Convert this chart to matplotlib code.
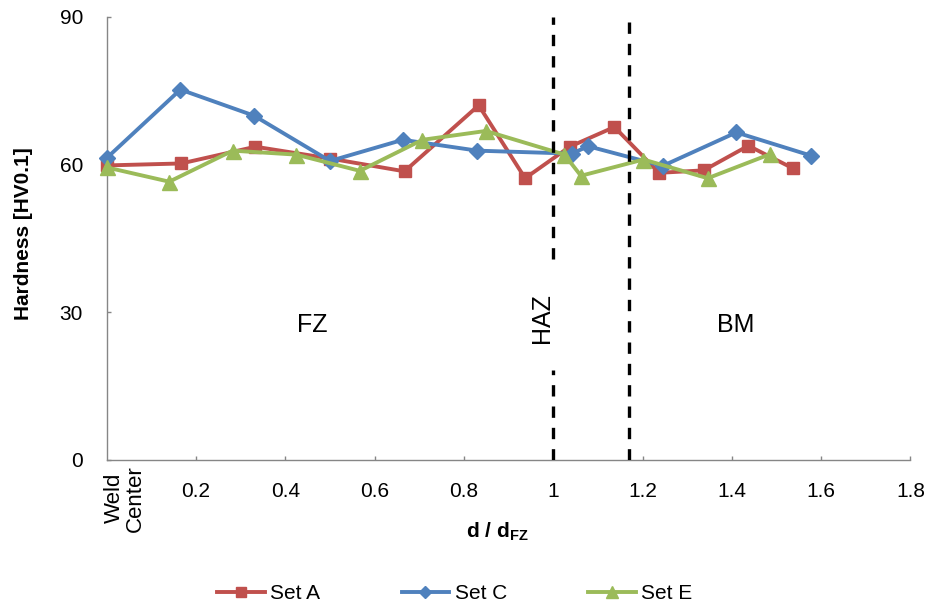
"""
Hardness profile across the weld (Set A / C / E) with zone boundaries.
"""

import matplotlib
matplotlib.use("Agg")
import matplotlib.pyplot as plt

plt.rcParams["font.family"] = ["Liberation Sans", "DejaVu Sans"]
plt.rcParams["mathtext.fontset"] = "custom"
plt.rcParams["mathtext.rm"] = "Liberation Sans"
plt.rcParams["mathtext.bf"] = "Liberation Sans:bold"

# --- Data ---
set_a_x = [0, 0.167, 0.333, 0.5, 0.667, 0.833, 0.937, 1.037, 1.137, 1.237, 1.337, 1.437, 1.537]
set_a_y = [59.8, 60.2, 63.6, 61.2, 58.6, 72.0, 57.2, 63.6, 67.6, 58.3, 58.8, 63.8, 59.2]

set_c_x = [0, 0.165, 0.33, 0.5, 0.663, 0.83, 1.042, 1.078, 1.245, 1.41, 1.577]
set_c_y = [61.3, 75.2, 69.9, 60.7, 65.0, 62.8, 62.2, 63.7, 59.7, 66.5, 61.8]

set_e_x = [0, 0.14, 0.282, 0.424, 0.567, 0.707, 0.849, 1.025, 1.062, 1.202, 1.346, 1.486]
set_e_y = [59.4, 56.5, 62.8, 62.0, 58.7, 65.0, 66.8, 62.0, 57.7, 61.0, 57.2, 62.1]

zone_bounds = [1.0, 1.17]       # FZ|HAZ and HAZ|BM
haz_gap = (18.3, 40.8)          # dashed line broken around the HAZ label
zone_labels = ["FZ", "HAZ", "BM"]
zone_label_x = [0.46, 0.975, 1.408]
zone_label_y = [27.4, 28.8, 27.4]

xticks = [0.2, 0.4, 0.6, 0.8, 1.0, 1.2, 1.4, 1.6, 1.8]
xtick_labels = ["0.2", "0.4", "0.6", "0.8", "1", "1.2", "1.4", "1.6", "1.8"]
yticks = [0, 30, 60, 90]

RED = "#C0504D"
BLUE = "#4F81BD"
GREEN = "#9BBB59"
AXIS_GREY = "#868686"

fig = plt.figure(figsize=(9.32, 6.13), dpi=100)
ax = fig.add_axes([0.1145, 0.2496, 0.8624, 0.7232])

ax.plot(set_a_x, set_a_y, color=RED, lw=2.8, marker="s", ms=8.8,
        mec=RED, mfc=RED, label="Set A", clip_on=False, zorder=3)
ax.plot(set_c_x, set_c_y, color=BLUE, lw=2.8, marker="D", ms=7.8,
        mec=BLUE, mfc=BLUE, label="Set C", clip_on=False, zorder=3.1)
ax.plot(set_e_x, set_e_y, color=GREEN, lw=2.8, marker="^", ms=10.8,
        mec=GREEN, mfc=GREEN, label="Set E", clip_on=False, zorder=3.2)

# zone boundaries
dash = dict(color="black", lw=2.4, linestyle=(0, (3.4, 3.0)), zorder=4)
ax.plot([zone_bounds[0]] * 2, [0, haz_gap[0]], **dash)
ax.plot([zone_bounds[0]] * 2, [haz_gap[1], 90], **dash)
ax.plot([zone_bounds[1]] * 2, [0, 90], **dash)

for lab, lx, ly in zip(zone_labels, zone_label_x, zone_label_y):
    ax.text(lx, ly, lab, fontsize=18, ha="center", va="center",
            rotation=90 if lab == "HAZ" else 0)

ax.set_xlim(0, 1.8)
ax.set_ylim(0, 90)
ax.set_xticks(xticks)
ax.set_xticklabels(xtick_labels)
ax.set_yticks(yticks)

for side in ["top", "right"]:
    ax.spines[side].set_visible(False)
for side in ["left", "bottom"]:
    ax.spines[side].set_color(AXIS_GREY)
    ax.spines[side].set_linewidth(1.0)

ax.tick_params(axis="both", direction="in", length=3, width=1.0,
               color=AXIS_GREY, labelsize=15)
ax.tick_params(axis="x", pad=16)
ax.tick_params(axis="y", pad=17)

ax.annotate("Weld\nCenter", xy=(0, 0), xycoords=("data", "axes fraction"),
            xytext=(-2, -3.5), textcoords="offset points", rotation=90,
            ha="left", va="top", multialignment="center", fontsize=16,
            linespacing=1.0)

ax.set_xlabel(r"d / d$_{\mathbf{FZ}}$", fontsize=15, fontweight="bold")
ax.xaxis.set_label_coords(0.486, -0.1625)
ax.xaxis.label.set_va("center")
ax.set_ylabel("Hardness [HV0.1]", fontsize=15, fontweight="bold")
ax.yaxis.set_label_coords(-0.103, 0.51)
ax.yaxis.label.set_va("center")

fig.legend(loc="center", bbox_to_anchor=(0.488, 0.031), ncol=3, frameon=False,
           fontsize=15, handlelength=2.3, handletextpad=0.25,
           columnspacing=3.9, markerscale=0.8)

fig.savefig("out.png", dpi=100)
plt.close(fig)
